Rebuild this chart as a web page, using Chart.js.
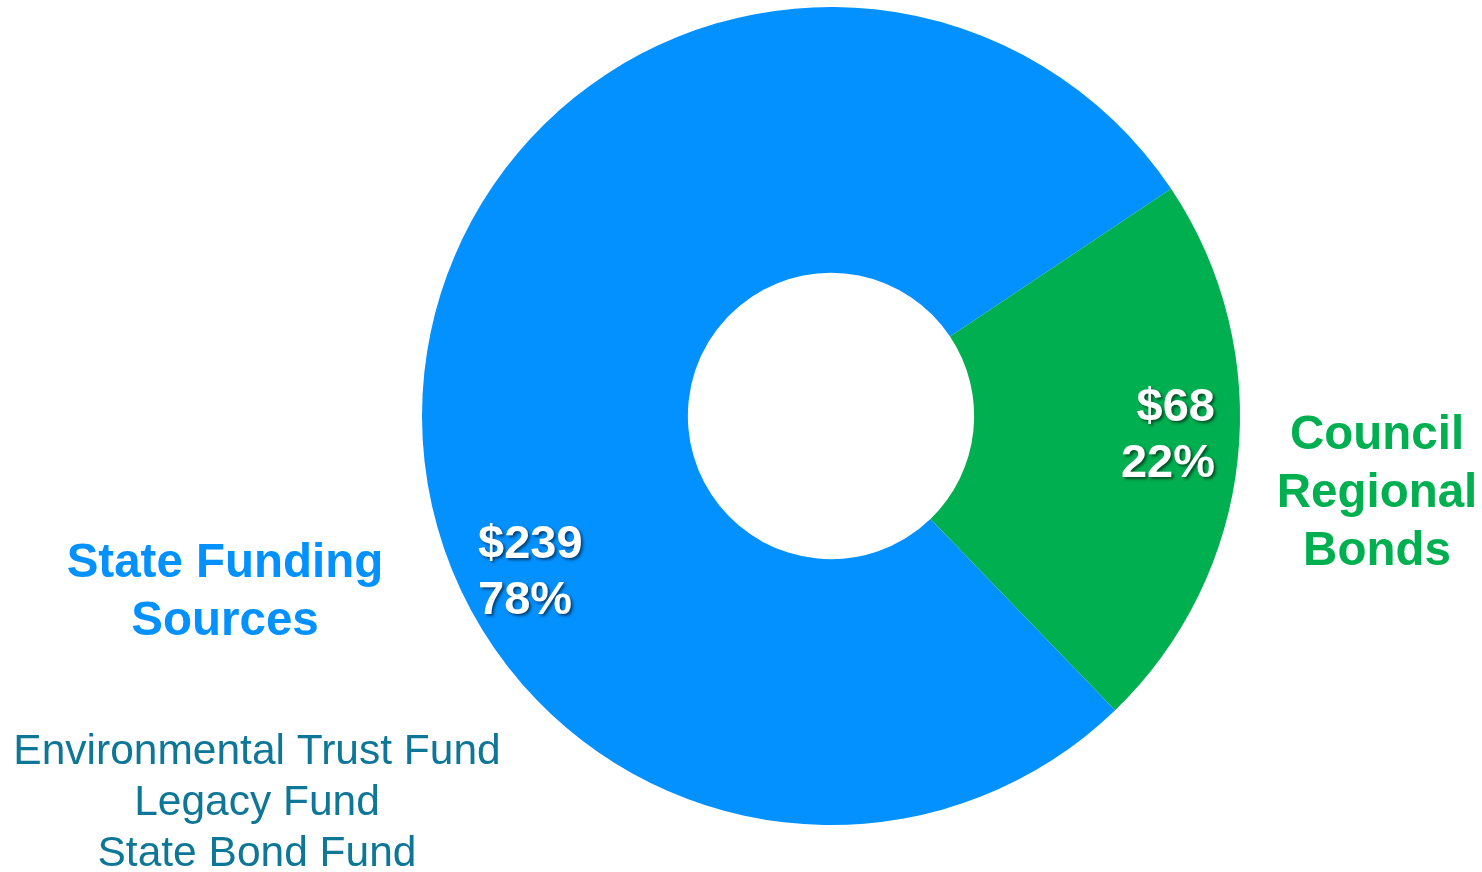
<!DOCTYPE html>
<html>
<head>
<meta charset="utf-8">
<script src="https://cdn.jsdelivr.net/npm/chart.js@4/dist/chart.umd.min.js"></script>
<style>
html,body{margin:0;padding:0;background:#fff;}
#wrap{width:1482px;height:872px;position:relative;}
</style>
</head>
<body>
<div id="wrap"><canvas id="c" width="1482" height="872"></canvas></div>
<script>
const categories = ["State Funding Sources", "Council Regional Bonds"];
const values = [239, 68];
const colors = ["#0391FF", "#00AF50"];
const stateSubSources = ["Environmental Trust Fund", "Legacy Fund", "State Bond Fund"];

const total = values.reduce((a, b) => a + b, 0);
const FONT = '"Liberation Sans", Arial, sans-serif';

const labelPlugin = {
  id: 'labels',
  afterDraw(chart) {
    const ctx = chart.ctx;
    ctx.save();
    const valLabels = [
      { i: 0, x: 478, y: 558, align: 'left' },
      { i: 1, x: 1215, y: 421, align: 'right' }
    ];
    ctx.font = 'bold 47px ' + FONT;
    ctx.textBaseline = 'alphabetic';
    valLabels.forEach(l => {
      ctx.textAlign = l.align;
      ctx.shadowColor = 'rgba(0,0,0,0.55)';
      ctx.shadowBlur = 3;
      ctx.shadowOffsetX = 2;
      ctx.shadowOffsetY = 2;
      ctx.fillStyle = '#ffffff';
      const pct = Math.round(values[l.i] / total * 100);
      ctx.fillText('$' + values[l.i], l.x, l.y);
      ctx.fillText(pct + '%', l.x, l.y + 56);
    });
    ctx.shadowColor = 'transparent';
    ctx.shadowBlur = 0; ctx.shadowOffsetX = 0; ctx.shadowOffsetY = 0;

    ctx.textAlign = 'center';
    ctx.font = 'bold 47.5px ' + FONT;
    ctx.fillStyle = colors[0];
    ctx.fillText('State Funding', 225, 577);
    ctx.fillText('Sources', 225, 635);
    ctx.fillStyle = colors[1];
    ctx.fillText('Council', 1377, 449);
    ctx.fillText('Regional', 1377, 507);
    ctx.fillText('Bonds', 1377, 565);

    ctx.font = '42.5px ' + FONT;
    ctx.fillStyle = '#0E7696';
    stateSubSources.forEach((s, k) => {
      ctx.fillText(s, 257, 764 + k * 51);
    });
    ctx.restore();
  }
};

new Chart(document.getElementById('c'), {
  type: 'doughnut',
  data: {
    labels: categories,
    datasets: [{
      data: values,
      backgroundColor: colors,
      borderWidth: 0,
      hoverOffset: 0
    }]
  },
  options: {
    responsive: false,
    animation: false,
    rotation: 136,
    cutout: '35%',
    layout: { padding: { left: 400, right: 220, top: 7, bottom: 47 } },
    plugins: { legend: { display: false }, tooltip: { enabled: false } }
  },
  plugins: [labelPlugin]
});
</script>
</body>
</html>
